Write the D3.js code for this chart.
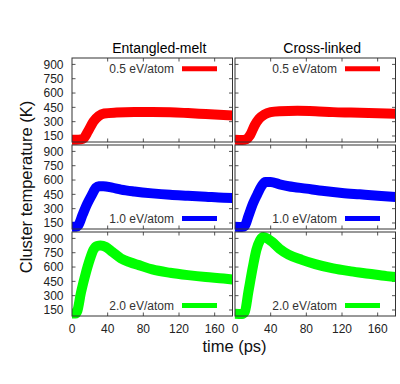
<!DOCTYPE html>
<html>
<head>
<meta charset="utf-8">
<script src="https://cdn.jsdelivr.net/npm/d3@7"></script>
<style>
  html, body { margin: 0; padding: 0; background: #fff; }
  svg { display: block; }
  text { font-family: "Liberation Sans", Arial, Helvetica, sans-serif; }
</style>
</head>
<body>
<svg id="chart" width="400" height="384"></svg>
<script>
// ---- data ----
const columnTitles = ["Entangled-melt", "Cross-linked"];
const energyLabels = ["0.5 eV/atom", "1.0 eV/atom", "2.0 eV/atom"];
const seriesColors = ["#ff0000", "#0000ff", "#00ff00"];
const xTickValues = [0, 40, 80, 120, 160];
const yTickValues = [150, 300, 450, 600, 750, 900];

// time (ps) and temperature (K)
const meltTime05 = [0, 5, 10, 13, 18, 24, 30, 36, 50, 70, 90, 110, 130, 150, 170, 180];
const meltTemp05 = [110, 110, 114, 125, 200, 300, 360, 385, 395, 400, 400, 398, 390, 380, 370, 365];
const crossTime05 = [0, 8, 13, 17, 22, 27, 33, 40, 50, 70, 90, 110, 130, 150, 170, 180];
const crossTemp05 = [110, 108, 118, 160, 260, 330, 375, 400, 410, 415, 410, 400, 395, 390, 385, 382];

const meltTime10 = [0, 5, 7, 12, 17, 22, 27, 30, 35, 45, 55, 70, 90, 110, 130, 150, 170, 180];
const meltTemp10 = [110, 110, 125, 240, 350, 440, 520, 535, 535, 520, 500, 480, 460, 445, 435, 425, 415, 412];
const crossTime10 = [0, 8, 11, 15, 20, 25, 30, 34, 40, 50, 60, 80, 100, 120, 140, 160, 180];
const crossTemp10 = [110, 108, 120, 220, 350, 450, 540, 580, 580, 555, 535, 510, 485, 465, 450, 435, 422];

const meltTime20 = [0, 4, 6, 10, 15, 20, 24, 28, 32, 38, 45, 55, 65, 75, 90, 110, 130, 150, 170, 180];
const meltTemp20 = [112, 112, 140, 330, 520, 680, 780, 820, 825, 810, 760, 690, 650, 620, 575, 540, 515, 495, 480, 470];
const crossTime20 = [0, 8, 11, 15, 20, 24, 28, 32, 36, 42, 50, 60, 75, 90, 110, 130, 150, 170, 180];
const crossTemp20 = [110, 108, 130, 340, 600, 780, 880, 915, 900, 860, 790, 730, 675, 630, 585, 555, 530, 505, 495];

const panelSeries = [
  [[meltTime05, meltTemp05], [crossTime05, crossTemp05]],
  [[meltTime10, meltTemp10], [crossTime10, crossTemp10]],
  [[meltTime20, meltTemp20], [crossTime20, crossTemp20]]
];

// ---- layout ----
const svg = d3.select("#chart");
const colLeft = [72, 235];
const panelW = 160.5;
const rowTop = [58, 145, 232];
const panelH = 84;
const frameColor = "#333";

const x = d3.scaleLinear().domain([0, 180]);
const y = d3.scaleLinear().domain([87, 967]);

for (let r = 0; r < 3; r++) {
  for (let c = 0; c < 2; c++) {
    const g = svg.append("g").attr("transform", `translate(${colLeft[c]},${rowTop[r]})`);
    const xs = x.copy().range([0, panelW]);
    const ys = y.copy().range([panelH, 0]);

    // inner ticks on all sides
    const tickLen = 3.5;
    const tk = g.append("g").attr("stroke", "#555").attr("stroke-width", 1);
    xTickValues.forEach(v => {
      if (v === 0) return;
      tk.append("line").attr("x1", xs(v)).attr("x2", xs(v)).attr("y1", panelH).attr("y2", panelH - tickLen);
      tk.append("line").attr("x1", xs(v)).attr("x2", xs(v)).attr("y1", 0).attr("y2", tickLen);
    });
    yTickValues.forEach(v => {
      tk.append("line").attr("x1", 0).attr("x2", tickLen).attr("y1", ys(v)).attr("y2", ys(v));
      tk.append("line").attr("x1", panelW).attr("x2", panelW - tickLen).attr("y1", ys(v)).attr("y2", ys(v));
    });

    // data line
    const [tArr, vArr] = panelSeries[r][c];
    const pts = tArr.map((t, i) => [t, vArr[i]]);
    const line = d3.line().x(d => xs(d[0])).y(d => ys(d[1])).curve(d3.curveMonotoneX);
    g.append("path").datum(pts).attr("d", line)
      .attr("fill", "none").attr("stroke", seriesColors[r])
      .attr("stroke-width", 10).attr("stroke-linejoin", "round").attr("stroke-linecap", "butt");

    // frame
    g.append("rect").attr("x", 0).attr("y", 0).attr("width", panelW).attr("height", panelH)
      .attr("fill", "none").attr("stroke", frameColor).attr("stroke-width", 1);

    // legend
    const legY = r === 0 ? 10.7 : 73.5;
    g.append("text").attr("x", 102).attr("y", legY + 4.3)
      .attr("text-anchor", "end").attr("font-size", 12).attr("fill", "#333")
      .text(energyLabels[r]);
    g.append("line").attr("x1", 110).attr("x2", 145).attr("y1", legY).attr("y2", legY)
      .attr("stroke", seriesColors[r]).attr("stroke-width", 5);

    // y tick labels
    if (c === 0) {
      yTickValues.forEach(v => {
        g.append("text").attr("x", -8.5).attr("y", ys(v) + 4.3)
          .attr("text-anchor", "end").attr("font-size", 12).attr("fill", "#222")
          .text(v);
      });
    }
    // x tick labels
    if (r === 2) {
      xTickValues.forEach(v => {
        g.append("text").attr("x", xs(v)).attr("y", panelH + 17)
          .attr("text-anchor", "middle").attr("font-size", 12).attr("fill", "#222")
          .text(v);
      });
    }
    // column titles
    if (r === 0) {
      g.append("text").attr("x", panelW / 2 + 7).attr("y", -4.7)
        .attr("text-anchor", "middle").attr("font-size", 14).attr("fill", "#000")
        .text(columnTitles[c]);
    }
  }
}

// axis titles
svg.append("text").attr("x", 234.5).attr("y", 352)
  .attr("text-anchor", "middle").attr("font-size", 16.5).attr("fill", "#111")
  .text("time (ps)");
svg.append("text")
  .attr("transform", "translate(32,187) rotate(-90)")
  .attr("text-anchor", "middle").attr("font-size", 16.5).attr("fill", "#111")
  .text("Cluster temperature (K)");
</script>
</body>
</html>
